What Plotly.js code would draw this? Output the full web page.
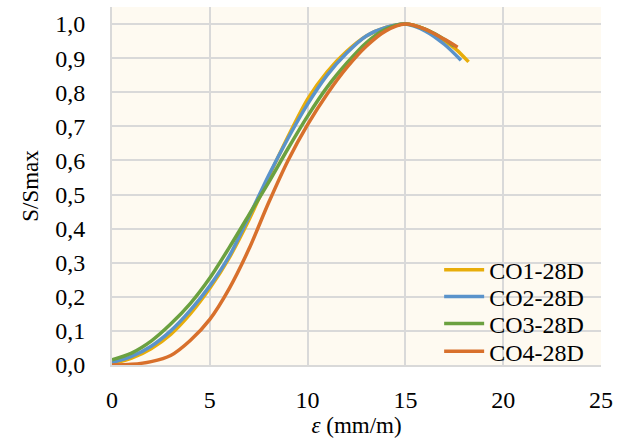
<!DOCTYPE html>
<html>
<head>
<meta charset="utf-8">
<script src="https://cdn.plot.ly/plotly-3.0.1.min.js"></script>
<style>
html,body{margin:0;padding:0;background:#fff}
#chart{width:633px;height:441px}
#chart svg text{font-family:"Liberation Serif","DejaVu Serif","Times New Roman",serif !important;}
</style>
</head>
<body>
<div id="chart"></div>
<script>
const seriesNames = ["CO1-28D", "CO2-28D", "CO3-28D", "CO4-28D"];

const co1X = [0, 1, 2, 3, 4, 5, 6, 7, 8, 9, 10, 11, 12, 13, 14, 15, 16, 17, 17.6, 18.23];
const co1Y = [0.003, 0.02, 0.048, 0.09, 0.15, 0.225, 0.315, 0.425, 0.55, 0.67, 0.78, 0.86, 0.92, 0.965, 0.99, 1.0, 0.985, 0.95, 0.925, 0.889];

const co2X = [0, 1, 2, 3, 4, 5, 6, 7, 8, 9, 10, 11, 12, 13, 14, 15, 16, 17, 17.84];
const co2Y = [0.007, 0.025, 0.055, 0.1, 0.16, 0.232, 0.32, 0.435, 0.555, 0.665, 0.765, 0.85, 0.915, 0.965, 0.99, 1.0, 0.98, 0.94, 0.894];

const co3X = [0, 1, 2, 3, 4, 5, 6, 7, 8, 9, 10, 11, 12, 13, 14, 15, 16, 17, 17.5];
const co3Y = [0.015, 0.035, 0.07, 0.12, 0.18, 0.255, 0.345, 0.44, 0.535, 0.635, 0.73, 0.815, 0.885, 0.945, 0.985, 1.0, 0.985, 0.955, 0.935];

const co4X = [0, 1, 2, 3, 4, 5, 6, 7, 8, 9, 10, 11, 12, 13, 14, 15, 16, 17, 17.67];
const co4Y = [0.0, 0.002, 0.01, 0.028, 0.072, 0.134, 0.225, 0.34, 0.475, 0.6, 0.705, 0.795, 0.872, 0.935, 0.98, 1.0, 0.985, 0.955, 0.932];

const xTicks = [0, 5, 10, 15, 20, 25];
const yTicks = [0, 0.1, 0.2, 0.3, 0.4, 0.5, 0.6, 0.7, 0.8, 0.9, 1.0];

const colors = ["#E8AD0A", "#5A93CB", "#6BA140", "#D8702C"];
const xs = [co1X, co2X, co3X, co4X];
const ys = [co1Y, co2Y, co3Y, co4Y];
const legendIds = ["legend", "legend2", "legend3", "legend4"];
const legendY = [0.265, 0.19, 0.115, 0.037];

const traces = seriesNames.map((n, i) => ({
  x: xs[i], y: ys[i], name: n, type: "scatter", mode: "lines", legend: legendIds[i],
  line: {color: colors[i], width: 3.5, shape: "spline", smoothing: 0.8}
}));

const fontFam = "Liberation Serif, DejaVu Serif, serif";
const layout = {
  width: 633, height: 441,
  margin: {l: 112, r: 32, t: 7, b: 76},
  paper_bgcolor: "#ffffff",
  plot_bgcolor: "#FEFAF1",
  separators: ", ",
  font: {family: fontFam, size: 23, color: "#000"},
  showlegend: true,
  xaxis: {
    range: [0, 25], tickvals: xTicks, tickformat: "d",
    showgrid: true, gridcolor: "#D9D9D9", gridwidth: 2,
    zeroline: false, showline: true, linecolor: "#D9D9D9", linewidth: 2,
    ticks: "", ticklabelstandoff: 12,
    tickfont: {family: fontFam, size: 24},
    title: {text: "<i>ε</i> (mm/m)", font: {family: fontFam, size: 23}, standoff: 2}
  },
  yaxis: {
    range: [0, 1.05], tickvals: yTicks, tickformat: ".1f",
    showgrid: true, gridcolor: "#D9D9D9", gridwidth: 2,
    zeroline: false, showline: true, linecolor: "#D9D9D9", linewidth: 2,
    ticks: "", ticklabelstandoff: 20,
    tickfont: {family: fontFam, size: 24},
    title: {text: "S/Smax", font: {family: fontFam, size: 23}, standoff: 10}
  }
};
legendIds.forEach((id, i) => {
  layout[id] = {
    x: 0.669, y: legendY[i], xanchor: "left", yanchor: "middle",
    bgcolor: "rgba(0,0,0,0)", font: {family: fontFam, size: 24, color: "#000"},
    itemwidth: 40
  };
});

Plotly.newPlot("chart", traces, layout, {displayModeBar: false, staticPlot: true});
</script>
</body>
</html>
